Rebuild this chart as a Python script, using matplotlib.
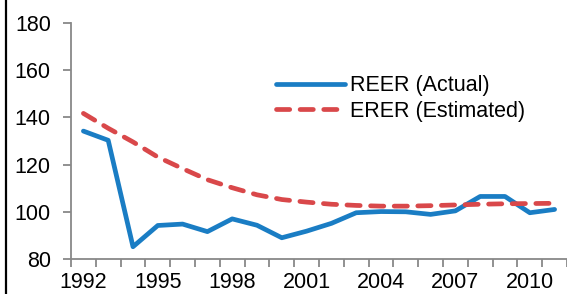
import numpy as np
import matplotlib
matplotlib.use("Agg")
import matplotlib.pyplot as plt
from matplotlib.lines import Line2D

# dados
anos = list(range(1992, 2012))
reer = [134.2, 130.3, 85.2, 94.2, 94.8, 91.6, 97.0, 94.3, 89.0, 91.8,
        95.1, 99.6, 100.1, 100.0, 98.9, 100.4, 106.5, 106.5, 99.6, 101.0]
erer = [141.7, 135.4, 129.6, 123.2, 118.3, 113.6, 110.2, 107.2, 105.2, 104.1,
        103.2, 102.7, 102.4, 102.4, 102.6, 102.9, 103.2, 103.4, 103.5, 103.6]
rotulos_x = [str(a) if (a - 1992) % 3 == 0 else "" for a in anos]
yticks = [80, 100, 120, 140, 160, 180]

plt.rcParams['font.family'] = ['Liberation Sans', 'DejaVu Sans']

fig = plt.figure(figsize=(5.67, 2.94), dpi=100)
ax = fig.add_axes([71/567, 1 - 259/294, 1 - 71/567, (259 - 23)/294])

x = np.arange(len(anos))
ax.plot(x, reer, color='#1a7dc4', lw=3.4, solid_capstyle='round',
        solid_joinstyle='round', label='REER (Actual)')
ax.plot(x, erer, color='#d9484a', lw=3.4, ls=(0, (2.8, 2.2)),
        dash_capstyle='round', label='ERER (Estimated)')

ax.set_xlim(-0.5, len(anos) - 0.5)
ax.set_ylim(80, 180)
ax.set_yticks(yticks)
ax.set_xticks(x)
ax.set_xticklabels(rotulos_x)
ax.set_xticks(np.arange(len(anos) + 1) - 0.5, minor=True)
ax.tick_params(axis='x', which='major', length=0, pad=9.5, labelsize=15.5)
ax.tick_params(axis='x', which='minor', length=5.5, width=1.3, color='#888888',
               direction='out')
ax.tick_params(axis='y', length=5.5, width=1.3, color='#888888', pad=9,
               labelsize=15.5)

for lado in ['top', 'right']:
    ax.spines[lado].set_visible(False)
for lado in ['left', 'bottom']:
    ax.spines[lado].set_color('#888888')
    ax.spines[lado].set_linewidth(1.3)
ax.patch.set_alpha(0)

ax.legend(loc='center left', bbox_to_anchor=(276/567, 1 - 98.5/294),
          bbox_transform=fig.transFigure, frameon=False, fontsize=15.5,
          handlelength=3.2, handletextpad=0.25, labelspacing=0.2,
          borderpad=0, borderaxespad=0)

# borda preta à esquerda
fig.add_artist(Line2D([5.5/567, 5.5/567], [0, 1], color='black', lw=1.6,
                      transform=fig.transFigure))

fig.savefig('out.png', dpi=100)
